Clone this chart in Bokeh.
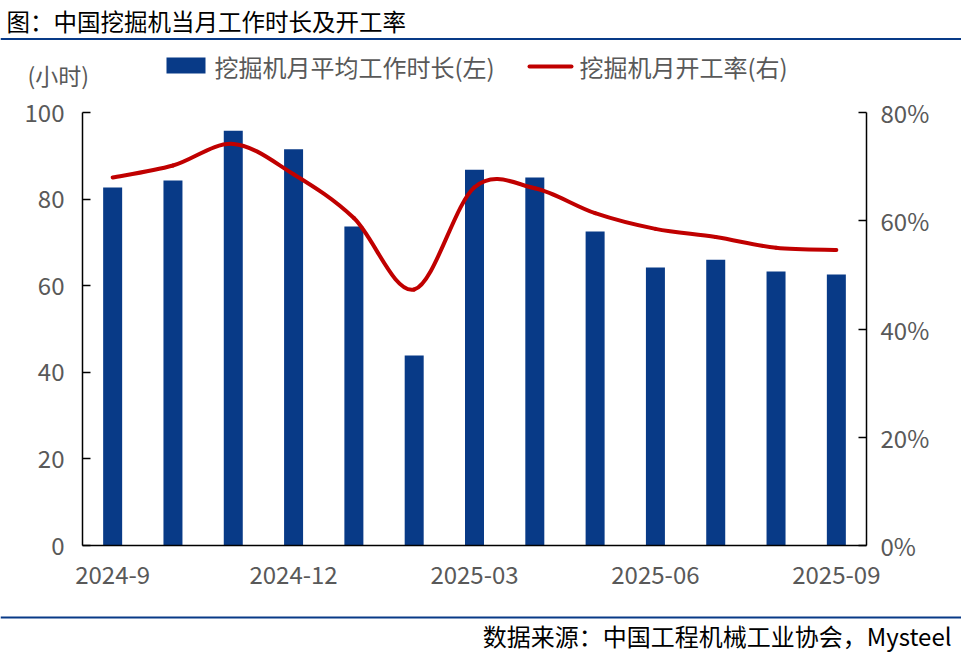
import numpy as np
from bokeh.plotting import figure
from bokeh.models import (Range1d, LinearAxis, FixedTicker, PrintfTickFormatter,
                          Label, Span)
from bokeh.layouts import column
from bokeh.embed import file_html
from bokeh.resources import INLINE

# ---------------- data ----------------
months = ["2024-9", "2024-10", "2024-11", "2024-12", "2025-01", "2025-02", "2025-03",
          "2025-04", "2025-05", "2025-06", "2025-07", "2025-08", "2025-09"]
hours = [82.7, 84.3, 95.8, 91.5, 73.7, 43.9, 86.8, 85.0, 72.5, 64.2, 66.0, 63.3, 62.6]
rate = [68.0, 70.2, 74.2, 68.6, 60.5, 47.3, 66.2, 66.0, 61.4, 58.5, 57.0, 55.0, 54.6]
tick_idx = [0, 3, 6, 9, 12]
tick_labels = ["2024-9", "2024-12", "2025-03", "2025-06", "2025-09"]
left_ticks = [0, 20, 40, 60, 80, 100]
right_ticks = [0, 20, 40, 60, 80]

title_text = "图：中国挖掘机当月工作时长及开工率"
bar_name = "挖掘机月平均工作时长(左)"
line_name = "挖掘机月开工率(右)"
unit_text = "(小时)"
source_text = "数据来源：中国工程机械工业协会，Mysteel"

FONT = "Noto Sans CJK SC"
BLUE = "#083A87"
RED = "#C00000"
GRAY = "#595959"
W = 961
TOP_H, MAIN_H, BOT_H = 93, 512, 51


def blank_fig(h):
    f = figure(width=W, height=h, x_range=Range1d(0, W), y_range=Range1d(h, 0),
               output_backend="svg", toolbar_location=None, min_border=0,
               x_axis_location=None, y_axis_location=None, frame_align=False)
    f.grid.visible = False
    f.outline_line_color = None
    return f


def add_label(f, x, y, text, size, color, align="left"):
    f.add_layout(Label(x=x, y=y, text=text, text_font=FONT, text_font_size=size,
                       text_color=color, text_baseline="middle", text_align=align))


# ---------------- header ----------------
top = blank_fig(TOP_H)
add_label(top, 6, 20, title_text, "23.5px", "#000000")
top.add_layout(Span(location=38.5, dimension="width", line_color=BLUE, line_width=2))
top.quad(left=[166], right=[205], top=[57], bottom=[73], fill_color=BLUE, line_color=None)
add_label(top, 214, 66, bar_name, "24px", GRAY)
top.segment(x0=[529], y0=[66], x1=[571], y1=[66], line_color=RED, line_width=4,
            line_cap="round")
add_label(top, 579, 66, line_name, "24px", GRAY)
add_label(top, 27, 74, unit_text, "23px", GRAY)

# ---------------- main chart ----------------
n = len(hours)
xs = np.arange(n, dtype=float)
p = figure(width=W, height=MAIN_H, x_range=Range1d(-0.5, n - 0.5), y_range=Range1d(0, 100),
           output_backend="svg", toolbar_location=None, frame_align=False,
           min_border_left=82, min_border_right=95, min_border_top=19, min_border_bottom=60)
p.extra_y_ranges = {"rate": Range1d(0, 80)}
p.grid.visible = False
p.outline_line_color = None

p.vbar(x=xs, top=hours, width=0.315, fill_color=BLUE, line_color=None)

# smoothed line (Catmull-Rom drawn as cubic Bezier segments through the data points)
yr = np.array(rate, dtype=float)
x0, y0, x1, y1, cx0, cy0, cx1, cy1 = [], [], [], [], [], [], [], []
for i in range(n - 1):
    a = max(i - 1, 0)
    d = min(i + 2, n - 1)
    x0.append(xs[i]); y0.append(yr[i])
    x1.append(xs[i + 1]); y1.append(yr[i + 1])
    cx0.append(xs[i] + (xs[i + 1] - xs[a]) / 6.0)
    cy0.append(yr[i] + (yr[i + 1] - yr[a]) / 6.0)
    cx1.append(xs[i + 1] - (xs[d] - xs[i]) / 6.0)
    cy1.append(yr[i + 1] - (yr[d] - yr[i]) / 6.0)
p.bezier(x0=x0, y0=y0, x1=x1, y1=y1, cx0=cx0, cy0=cy0, cx1=cx1, cy1=cy1,
         y_range_name="rate", line_color=RED, line_width=4, line_cap="round")


def style_axis(ax, tick_in, standoff):
    ax.major_tick_in = tick_in
    ax.major_tick_out = 0
    ax.minor_tick_in = 0
    ax.minor_tick_out = 0
    ax.axis_line_color = "#000000"
    ax.major_tick_line_color = "#000000"
    ax.axis_line_width = 1.5
    ax.major_tick_line_width = 1.5
    ax.major_label_standoff = standoff
    ax.major_label_text_font = FONT
    ax.major_label_text_font_size = "24px"
    ax.major_label_text_color = GRAY


xa = p.xaxis[0]
xa.ticker = FixedTicker(ticks=tick_idx)
xa.major_label_overrides = {i: t for i, t in zip(tick_idx, tick_labels)}
style_axis(xa, 0, 20)

ya = p.yaxis[0]
ya.ticker = FixedTicker(ticks=left_ticks)
style_axis(ya, 8, 18)

ra = LinearAxis(y_range_name="rate", ticker=FixedTicker(ticks=right_ticks),
                formatter=PrintfTickFormatter(format="%d%%"))
style_axis(ra, 8, 14)
p.add_layout(ra, "right")

# ---------------- footer ----------------
bot = blank_fig(BOT_H)
bot.add_layout(Span(location=12, dimension="width", line_color=BLUE, line_width=2))
add_label(bot, 951, 30, source_text, "24px", "#000000", align="right")

layout = column(top, p, bot, spacing=0)
open("out.html", "w").write(file_html(layout, INLINE))
